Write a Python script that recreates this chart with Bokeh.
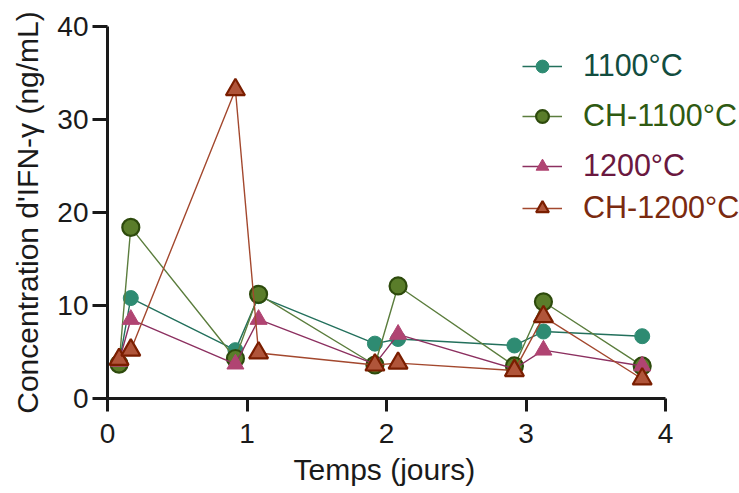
from bokeh.plotting import figure
from bokeh.models import Range1d, Legend, LegendItem, FixedTicker, Title
from bokeh.embed import file_html
from bokeh.resources import INLINE

# Data (time in days, IFN-gamma concentration in ng/mL)
times = [0.083, 0.167, 0.917, 1.083, 1.917, 2.083, 2.917, 3.125, 3.833]
s1100 = [3.8, 10.8, 5.2, 11.0, 5.9, 6.4, 5.7, 7.2, 6.7]
ch1100 = [3.7, 18.4, 4.3, 11.2, 3.6, 12.1, 3.5, 10.4, 3.5]
s1200 = [4.0, 8.5, 3.7, 8.5, 3.7, 6.9, 3.2, 5.2, 3.5]
ch1200 = [4.2, 5.2, 33.2, 4.9, 3.6, 3.8, 3.0, 8.8, 2.1]
series_names = ["1100°C", "CH-1100°C", "1200°C", "CH-1200°C"]
x_ticks = [0, 1, 2, 3, 4]
y_ticks = [0, 10, 20, 30, 40]

FONT = "Liberation Sans"

# frame spans x 107..739 px; axis drawn only over 0..4
x_end = (739 - 107) / 139.5
p = figure(width=739, height=493, output_backend="svg", toolbar_location=None,
           x_range=Range1d(0, x_end), y_range=Range1d(0, 40),
           min_border_left=107, min_border_right=0, min_border_top=26, min_border_bottom=95)
p.outline_line_color = None
p.grid.visible = False
p.background_fill_color = "white"

styles = [
    # name, data, line color, fill, outline, marker, size, text color
    (series_names[0], s1100, "#23705c", "#2e8b72", "#2e8b72", "circle", 15, "#124d3f"),
    (series_names[1], ch1100, "#5b7d3d", "#5a7d2a", "#2d4a0c", "circle", 17, "#2f5a12"),
    (series_names[2], s1200, "#8c3060", "#b04472", "#b04472", "triangle", 17, "#6a1840"),
    (series_names[3], ch1200, "#a3482e", "#b0553a", "#7a1e00", "triangle", 19, "#7a2a10"),
]

legend_y = [331, 281, 231, 189]  # legend item centres, px from frame bottom
for (name, vals, lc, fc, oc, mk, sz, tc), ly in zip(styles, legend_y):
    lr = p.line(times, vals, line_color=lc, line_width=1.4)
    sr = p.scatter(times, vals, marker=mk, size=sz, fill_color=fc, line_color=oc,
                   line_width=2.2 if oc != fc else 1)
    leg = Legend(items=[LegendItem(label=name, renderers=[lr, sr])],
                 location=(415, ly - 16), orientation="vertical",
                 glyph_width=40, glyph_height=32, label_height=32,
                 label_standoff=21, padding=0, margin=0, spacing=0,
                 border_line_color=None, background_fill_alpha=0,
                 label_text_font=FONT, label_text_font_size="30.5px",
                 label_text_color=tc, label_text_baseline="middle")
    p.add_layout(leg, "center")

for ax in (p.xaxis[0], p.yaxis[0]):
    ax.axis_line_width = 3
    ax.axis_line_color = "#1a1a1a"
    ax.major_tick_line_width = 3
    ax.major_tick_line_color = "#1a1a1a"
    ax.major_tick_in = 0
    ax.minor_tick_line_color = None
    ax.major_label_text_font = FONT
    ax.major_label_text_font_size = "28px"
    ax.major_label_text_color = "#1a1a1a"
    ax.axis_label_text_font = FONT
    ax.axis_label_text_font_size = "30px"
    ax.axis_label_text_font_style = "normal"
    ax.axis_label_text_color = "#1a1a1a"

p.xaxis[0].bounds = (0, 4)
p.xaxis[0].ticker = FixedTicker(ticks=x_ticks)
p.yaxis[0].ticker = FixedTicker(ticks=y_ticks)
p.xaxis[0].major_tick_out = 13
p.yaxis[0].major_tick_out = 15
p.xaxis[0].major_label_standoff = 12
p.yaxis[0].major_label_standoff = 4
p.yaxis[0].axis_label_standoff = 10
p.yaxis[0].axis_label = "Concentration d'IFN-γ (ng/mL)"

# x-axis title, centred under the 0..4 axis span rather than the wider frame
xtitle = Title(text="Temps (jours)", align="left", offset=186, standoff=10,
               text_font=FONT, text_font_size="30px", text_font_style="normal",
               text_color="#1a1a1a")
p.add_layout(xtitle, "below")

open("out.html", "w").write(file_html(p, INLINE))
